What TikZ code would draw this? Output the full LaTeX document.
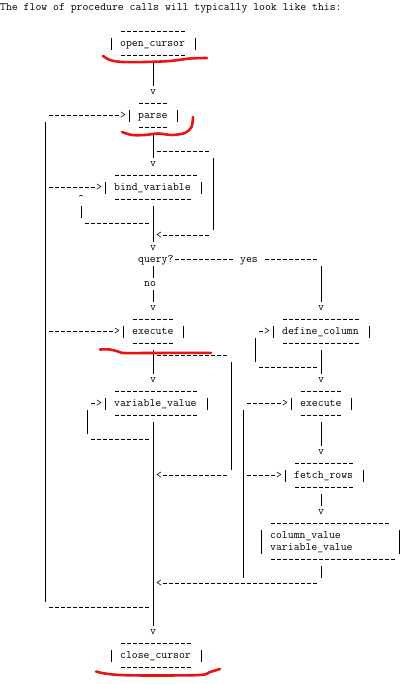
\documentclass[tikz,border=0pt]{standalone}
\usepackage{fontspec}
\definecolor{ink}{HTML}{000000}
\definecolor{pen}{HTML}{E81414}

\begin{document}
\begin{tikzpicture}[x=6pt,y=-12pt,
  glyph/.style={ink,font=\ttfamily\fontsize{11.43}{12}\selectfont,inner sep=0pt,anchor=mid west},
  vbar/.style={ink,line width=0.9pt},
  hline/.style={ink,line width=0.9pt,dash pattern=on 4pt off 2pt},
  scrawl/.style={pen,line width=2.6pt,line cap=round,line join=round}]
  \fill[white] (0,-0.6667) rectangle (67.6667,56.3333);
  \useasboundingbox (0,-0.6667) rectangle (67.6667,56.3333);
  % labels, one grid cell per character
  \foreach \r/\c/\t/\n in {0/0/{The flow of procedure calls will typically look like this:}/title,
      3/20/{open\_cursor}/open, 9/23/parse/parse, 15/19/{bind\_variable}/bind,
      21/23/{query?}/query, 21/40/yes/yes, 23/24/no/no,
      27/22/execute/exec, 27/47/{define\_column}/define,
      33/19/{variable\_value}/varval, 33/50/execute/execb, 39/49/{fetch\_rows}/fetch,
      44/45/{column\_value}/colval, 45/45/{variable\_value}/colvar, 54/20/{close\_cursor}/close}
    \node[glyph] (\n) at (\c,\r) {\t};
  % arrow heads
  \foreach \r/\c/\t [count=\i] in {7/25/v, 9/20/>, 13/25/v, 15/16/>, 16/13/\textasciicircum,
      19/26/<, 20/25/v, 25/25/v, 25/53/v, 27/19/>, 27/44/>, 31/25/v, 31/53/v,
      33/16/>, 33/47/>, 37/53/v, 39/26/<, 39/46/>, 42/53/v, 48/26/<, 52/25/v}
    \node[glyph] (tip\i) at (\c,\r) {\t};
  % dashes: row / first col / last col
  \foreach \r/\a/\b in {2/20/30, 4/20/30, 8/23/27, 9/8/19, 10/23/27, 12/26/34,
      14/19/32, 15/8/15, 16/19/31, 18/14/24, 19/27/34, 21/29/38, 21/44/52,
      26/22/28, 26/47/59, 27/8/18, 27/43/43, 28/22/28, 28/47/59, 29/26/37, 30/43/52,
      32/19/32, 32/50/56, 33/15/15, 33/41/46, 34/19/32, 34/50/56, 36/15/24,
      38/49/58, 39/27/37, 39/41/45, 40/49/58, 43/45/64, 46/45/65, 48/27/52,
      50/8/24, 53/20/31, 55/20/31}
    \draw[hline] ({\a+1/6},{\r-1/12}) -- ({\b+5/6},{\r-1/12});
  % bars: col / first row / last row
  \foreach \c/\a/\b in {25/5/6, 25/11/12, 25/17/19, 25/22/22, 25/24/24, 25/29/30, 25/35/51,
      7/10/49, 35/13/18, 13/17/17, 14/34/35, 42/28/29, 38/30/38, 40/34/47,
      53/22/24, 53/29/30, 53/35/36, 53/41/41, 53/47/47,
      18/3/3, 32/3/3, 21/9/9, 29/9/9, 17/15/15, 33/15/15, 20/27/27, 30/27/27,
      45/27/27, 61/27/27, 17/33/33, 34/33/33, 48/33/33, 58/33/33, 47/39/39, 60/39/39,
      43/44/45, 66/44/45, 18/54/54, 33/54/54}
    \draw[vbar] ({\c+0.5},{\a-0.5}) -- ({\c+0.5},{\b+0.5});
  % red pen marks
  \begin{scope}[shift={(0pt,8pt)}]
    \draw[scrawl] plot[smooth] coordinates {(103pt,-56pt) (110pt,-60pt) (122pt,-62pt)
      (145pt,-62pt) (170pt,-61pt) (190pt,-58.5pt) (207pt,-58pt)};
    \draw[scrawl] plot[smooth] coordinates {(122pt,-132pt) (132pt,-135pt) (145pt,-135pt)
      (158pt,-133.5pt) (172pt,-135pt) (185pt,-133pt) (191.5pt,-127pt) (193pt,-117pt)};
    \draw[scrawl] plot[smooth] coordinates {(100pt,-349.5pt) (110pt,-349.5pt) (118pt,-351.5pt)
      (124pt,-353pt) (150pt,-353pt) (211pt,-352.8pt)};
    \draw[scrawl] plot[smooth] coordinates {(96pt,-671.5pt) (105pt,-673.5pt) (120pt,-675pt)
      (150pt,-675.5pt) (200pt,-675pt) (210pt,-672pt) (220pt,-669pt)};
  \end{scope}
\end{tikzpicture}
\end{document}
